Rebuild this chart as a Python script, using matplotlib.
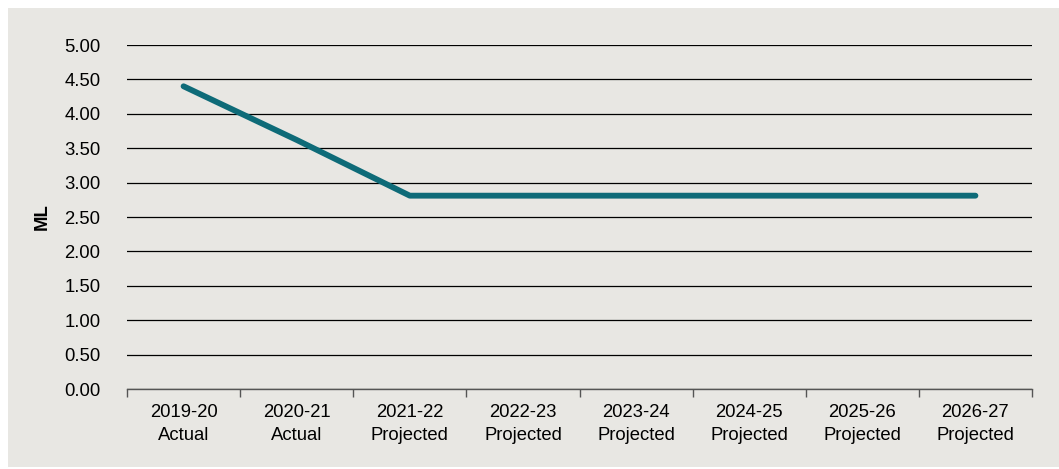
import numpy as np
import matplotlib.pyplot as plt
import matplotlib.patches as mpatches

plt.rcParams['font.family'] = ['Liberation Sans', 'DejaVu Sans']

# Data
years = ['2019-20', '2020-21', '2021-22', '2022-23', '2023-24', '2024-25', '2025-26', '2026-27']
status = ['Actual', 'Actual', 'Projected', 'Projected', 'Projected', 'Projected', 'Projected', 'Projected']
volume_ml = [4.40, 3.62, 2.81, 2.81, 2.81, 2.81, 2.81, 2.81]

bg = '#e8e7e3'
teal = '#0e6b78'
fs = 13.3

fig = plt.figure(figsize=(10.59, 4.69), dpi=100, facecolor='white')
# grey panel behind the chart
fig.patches.append(mpatches.Rectangle((8 / 1059, 0.004), 1, 1 - 8 / 469 - 0.004,
                                      transform=fig.transFigure, facecolor=bg,
                                      edgecolor='none', zorder=-10))

ax = fig.add_axes([127 / 1059, 1 - 389 / 469, (1032 - 127) / 1059, (389 - 45) / 469])
ax.set_facecolor(bg)

x = np.arange(len(years))
ax.plot(x, volume_ml, color=teal, lw=4.2, solid_capstyle='round', zorder=3)

ax.set_ylim(0, 5)
ax.set_xlim(-0.5, len(years) - 0.5)
ax.set_yticks(np.arange(0, 5.01, 0.5))
ax.set_yticklabels([f'{v:.2f}' for v in np.arange(0, 5.01, 0.5)], fontsize=fs)
ax.yaxis.grid(True, color='black', lw=0.9)
ax.set_axisbelow(True)
ax.tick_params(axis='y', length=0, pad=19)

ax.set_xticks(x)
ax.set_xticklabels([f'{y}\n{s}' for y, s in zip(years, status)], fontsize=fs, linespacing=1.45)
ax.tick_params(axis='x', length=0, pad=11)
# category boundary ticks
ax.set_xticks(np.arange(-0.5, len(years), 1), minor=True)
ax.tick_params(axis='x', which='minor', length=6, color='#555555', width=1)

for side in ['top', 'right', 'left']:
    ax.spines[side].set_visible(False)
ax.spines['bottom'].set_color('#555555')
ax.spines['bottom'].set_linewidth(1)

ax.set_ylabel('ML', fontsize=fs, fontweight='bold', labelpad=10)

fig.savefig('out.png', dpi=100, facecolor='white')
